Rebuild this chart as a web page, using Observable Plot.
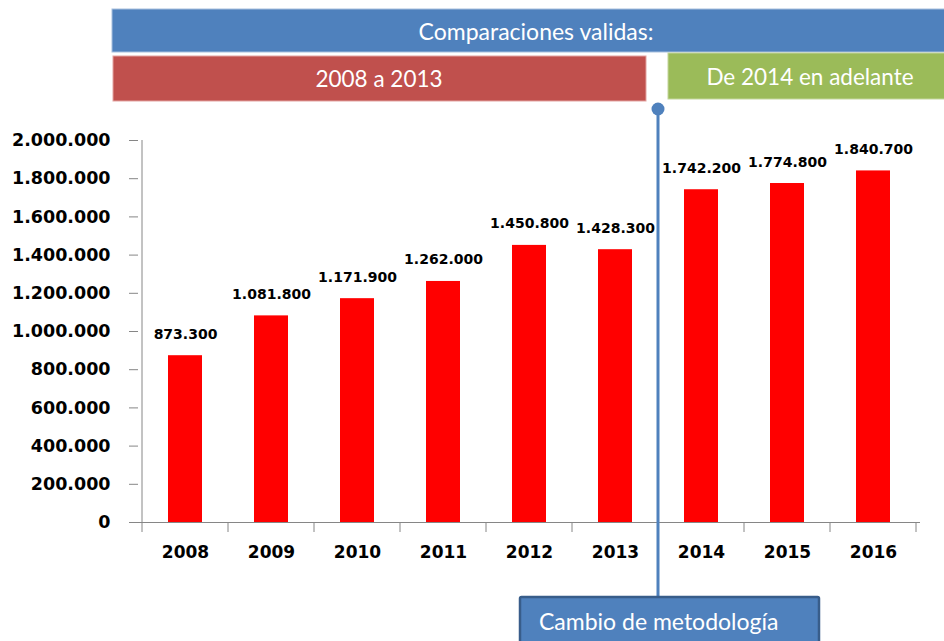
<!DOCTYPE html>
<html>
<head>
<meta charset="utf-8">
<script src="https://cdn.jsdelivr.net/npm/d3@7"></script>
<script src="https://cdn.jsdelivr.net/npm/@observablehq/plot@0.6"></script>
<style>
  html, body { margin: 0; padding: 0; background: #fff; }
  #chart { width: 944px; height: 641px; overflow: hidden; }
  svg text { font-weight: bold; }
  .ann text { font-weight: normal; }
</style>
</head>
<body>
<div id="chart"></div>
<script>
const years = ["2008", "2009", "2010", "2011", "2012", "2013", "2014", "2015", "2016"];
const values = [873300, 1081800, 1171900, 1262000, 1450800, 1428300, 1742200, 1774800, 1840700];
const yTicks = [0, 200000, 400000, 600000, 800000, 1000000, 1200000, 1400000, 1600000, 1800000, 2000000];
const bannerTop = "Comparaciones validas:";
const bannerLeft = "2008 a 2013";
const bannerRight = "De 2014 en adelante";
const noteText = "Cambio de metodología";
const splitBefore = "2014";

const data = years.map((y, i) => ({year: y, value: values[i]}));
const loc = d3.formatLocale({decimal: ",", thousands: ".", grouping: [3], currency: ["", ""]});
const fmt = loc.format(",d");

const chart = Plot.plot({
  width: 944,
  height: 641,
  marginLeft: 138,
  marginRight: 24,
  marginTop: 140,
  marginBottom: 119,
  style: {background: "white", color: "black", fontFamily: "DejaVu Sans", overflow: "visible"},
  x: {domain: years, paddingInner: 0.6, paddingOuter: 0.3, label: null},
  y: {domain: [0, 2000000], label: null},
  marks: [
    Plot.barY(data, {x: "year", y: "value", fill: "#ff0000"}),
    Plot.ruleY([0], {stroke: "#868686", strokeWidth: 1}),
    Plot.axisY({ticks: yTicks, tickSize: 9, tickPadding: 19, tickFormat: fmt, stroke: "#868686", fill: "black", fontSize: 17.5, fontWeight: "bold", label: null}),
    Plot.axisX({tickSize: 0, tickPadding: 23, fontSize: 17, fontWeight: "bold", fill: "black", label: null}),
    Plot.text(data, {x: "year", y: "value", text: d => fmt(d.value), lineAnchor: "bottom", dy: -17, fontSize: 14, fontWeight: "bold", fill: "black"})
  ]
});
document.getElementById("chart").appendChild(chart);

const svg = d3.select(chart);
const xs = chart.scale("x");
const ys = chart.scale("y");
const bw = xs.bandwidth;
const step = xs.apply(years[1]) - xs.apply(years[0]);
const [y0, y1] = [ys.apply(0), ys.apply(2000000)];

// y axis line
const xLeft = xs.apply(years[0]) + bw / 2 - step / 2;
svg.append("line").attr("x1", xLeft).attr("x2", xLeft)
  .attr("y1", y0).attr("y2", y1).attr("stroke", "#868686");
// x boundary ticks
const bounds = years.map(y => xs.apply(y) + bw / 2 - step / 2);
bounds.push(bounds[bounds.length - 1] + step);
svg.append("g").selectAll("line").data(bounds).join("line")
  .attr("x1", d => d).attr("x2", d => d).attr("y1", y0).attr("y2", y0 + 10).attr("stroke", "#868686");

const ann = svg.append("g").attr("class", "ann").attr("font-family", "Lato, 'Open Sans', sans-serif");
// banners
ann.append("rect").attr("x", 112).attr("y", 9).attr("width", 840).attr("height", 43)
  .attr("fill", "#4f81bd").attr("stroke", "#a7bfde").attr("stroke-width", 1);
ann.append("text").attr("x", 536).attr("y", 31).attr("text-anchor", "middle").attr("dominant-baseline", "central")
  .attr("fill", "white").attr("font-size", 23).text(bannerTop);
ann.append("rect").attr("x", 113).attr("y", 56).attr("width", 533).attr("height", 45)
  .attr("fill", "#c0504d").attr("stroke", "#e3a3a1").attr("stroke-width", 1);
ann.append("text").attr("x", 379).attr("y", 78).attr("text-anchor", "middle").attr("dominant-baseline", "central")
  .attr("fill", "white").attr("font-size", 22.5).text(bannerLeft);
ann.append("rect").attr("x", 668).attr("y", 53).attr("width", 284).attr("height", 46)
  .attr("fill", "#9bbb59").attr("stroke", "#c3d69b").attr("stroke-width", 1);
ann.append("text").attr("x", 810).attr("y", 76).attr("text-anchor", "middle").attr("dominant-baseline", "central")
  .attr("fill", "white").attr("font-size", 22.5).text(bannerRight);

// divider
const divX = (xs.apply(years[years.indexOf(splitBefore) - 1]) + xs.apply(splitBefore)) / 2 + bw / 2;
ann.append("line").attr("x1", divX).attr("x2", divX).attr("y1", 109).attr("y2", 598)
  .attr("stroke", "#4f81bd").attr("stroke-width", 3);
ann.append("circle").attr("cx", divX).attr("cy", 109).attr("r", 6.5).attr("fill", "#4f81bd");

// note box
ann.append("rect").attr("x", 520).attr("y", 597).attr("width", 299).attr("height", 60)
  .attr("fill", "#4f81bd").attr("stroke", "#385d8a").attr("stroke-width", 2.5).attr("rx", 1.5);
ann.append("text").attr("x", 539).attr("y", 630).attr("text-anchor", "start")
  .attr("fill", "white").attr("font-size", 23).text(noteText);
</script>
</body>
</html>
